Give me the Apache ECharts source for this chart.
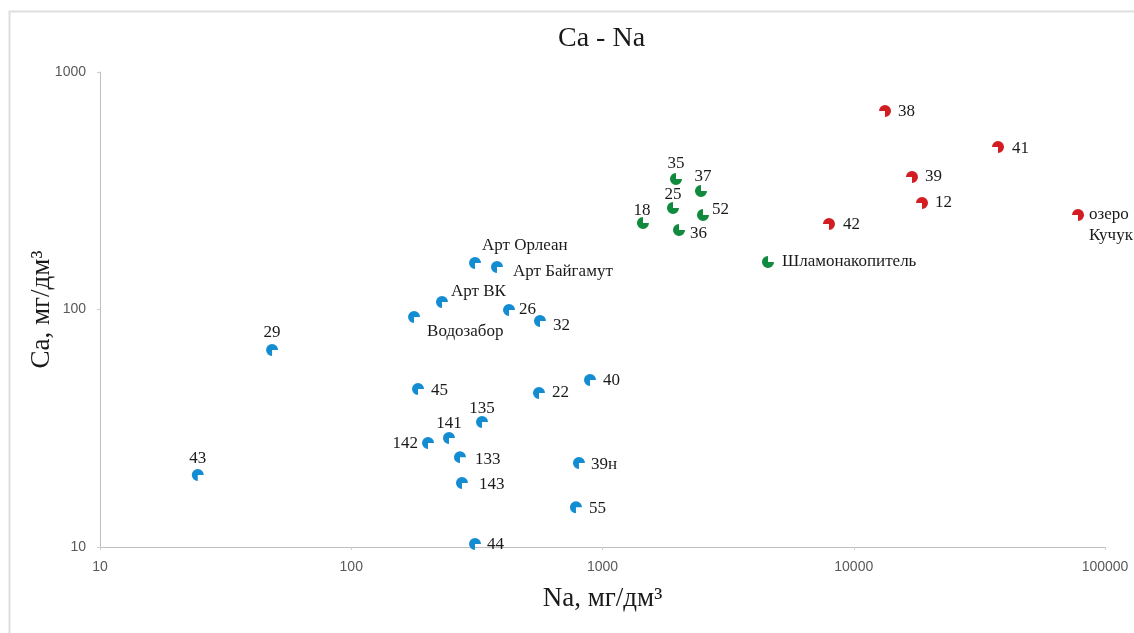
<!DOCTYPE html>
<html>
<head>
<meta charset="utf-8">
<script src="https://cdn.jsdelivr.net/npm/echarts@6/dist/echarts.min.js"></script>
<style>
html,body{margin:0;padding:0;background:#fff;}
#chart{width:1134px;height:633px;}
</style>
</head>
<body>
<div id="chart"></div>
<script>
// ---- data (Na, Ca in mg/dm3) ----
const blueNames = ['43','29','Водозабор','Арт ВК','Арт Орлеан','Арт Байгамут','26','32','45','22','40','135','141','142','133','143','39н','55','44'];
const blueNa = [24.5,48.4,177.8,229.7,310.9,380.2,424.6,563.9,184.4,558.8,891.9,331.5,244.9,202.1,270.9,275.9,806,784,310.9];
const blueCa = [20.1,67.5,93.0,107.5,157.0,151.0,99.5,89.5,46.3,44.5,50.5,33.6,28.8,27.4,23.9,18.6,22.6,14.7,10.3];

const greenNames = ['18','35','37','25','52','36','Шламонакопитель'];
const greenNa = [1449,1961,2466,1908,2512,2016,4557];
const greenCa = [231.3,354.4,315.5,267.6,250,216.1,158.5];

const redNames = ['38','41','39','12','42','озеро Кучук'];
const redNa = [13317,37512,17052,18694,7970,78090];
const redCa = [685,483.3,361.4,280.8,229.1,250];

const xTicks = [10,100,1000,10000,100000];
const yTicks = [10,100,1000];

// ---- label layout ----
const labelLayout = {
  '43':['top',0,5], '29':['top',0,4],
  'Водозабор':['right',2,15], 'Арт ВК':['right',-2,-11], 'Арт Орлеан':['right',-4,-17],
  'Арт Байгамут':['right',5,5], '26':['right',-1,0], '32':['right',2,5],
  '45':['right',2,2], '22':['right',2,0], '40':['right',2,1],
  '135':['top',0,8], '141':['top',0,7], '142':['left',1,0],
  '133':['right',4,2], '143':['right',6,2], '39н':['right',1,2], '55':['right',2,1], '44':['right',1,1],
  '18':['top',-1,9], '35':['top',0,6], '37':['top',2,7], '25':['top',0,8],
  '52':['right',-2,-5], '36':['right',0,4], 'Шламонакопитель':['right',3,0],
  '38':['right',2,1], '41':['right',3,2], '39':['right',2,0], '12':['right',2,0], '42':['right',3,1],
  'озеро Кучук':['right',0,10]
};
const labelText = {'озеро Кучук':'озеро\nКучук'};

function buildData(names, xs, ys){
  return names.map((n,i)=>{
    const l = labelLayout[n] || ['right',0,0];
    return {name:n, value:[xs[i], ys[i]], label:{position:l[0], offset:[l[1], l[2]]}};
  });
}

const symBlue  = 'path://M0,0 L10,0 A10,10 0 1 0 0,10 Z';
const symGreen = 'path://M0,0 L0,-10 A10,10 0 1 0 10,0 Z';
const symRed   = 'path://M0,0 L0,10 A10,10 0 1 0 -10,0 Z';

const labelStyle = {
  show:true,
  formatter: p => labelText[p.name] || p.name,
  fontFamily:'Liberation Serif', fontSize:17, color:'#1a1a1a', lineHeight:21, distance:5
};

function series(names, xs, ys, sym, color){
  return {
    type:'scatter', symbol:sym, symbolSize:12,
    itemStyle:{color:color, opacity:1},
    label:labelStyle,
    data: buildData(names, xs, ys)
  };
}

const chart = echarts.init(document.getElementById('chart'), null, {renderer:'canvas'});
chart.setOption({
  animation:false,
  backgroundColor:'#fff',
  graphic:[{type:'rect', shape:{x:9.5,y:11.5,width:1200,height:700}, style:{fill:'none', stroke:'#dedede', lineWidth:2}, silent:true}],
  title:{text:'Ca - Na', left:553, top:20, textStyle:{fontFamily:'Liberation Serif', fontSize:28, fontWeight:'normal', color:'#1a1a1a'}},
  grid:{left:100, right:29, top:72, bottom:86},
  xAxis:{
    type:'log', logBase:10, min:xTicks[0], max:xTicks[xTicks.length-1],
    name:'Na, мг/дм³', nameLocation:'middle', nameGap:38, nameMoveOverlap:false,
    nameTextStyle:{fontFamily:'Liberation Serif', fontSize:27, color:'#1a1a1a'},
    axisLine:{lineStyle:{color:'#bfbfbf', width:1}},
    axisTick:{show:true, length:3, lineStyle:{color:'#d0d0d0'}},
    axisLabel:{color:'#595959', fontSize:14, fontFamily:'Liberation Sans', margin:13, showMinLabel:true, showMaxLabel:true, formatter: v => String(Math.round(v))},
    splitLine:{show:false}, minorTick:{show:false}
  },
  yAxis:{
    type:'log', logBase:10, min:yTicks[0], max:yTicks[yTicks.length-1],
    name:'Ca, мг/дм³', nameLocation:'middle', nameGap:45, nameMoveOverlap:false,
    nameTextStyle:{fontFamily:'Liberation Serif', fontSize:27, color:'#1a1a1a'},
    axisLine:{show:true, lineStyle:{color:'#bfbfbf', width:1}},
    axisTick:{show:true, length:3, lineStyle:{color:'#d0d0d0'}},
    axisLabel:{color:'#595959', fontSize:14, fontFamily:'Liberation Sans', margin:14, showMinLabel:true, showMaxLabel:true, formatter: v => String(Math.round(v))},
    splitLine:{show:false}
  },
  series:[
    series(blueNames, blueNa, blueCa, symBlue, '#148cd2'),
    series(greenNames, greenNa, greenCa, symGreen, '#108a3c'),
    series(redNames, redNa, redCa, symRed, '#d21e23')
  ]
});
</script>
</body>
</html>
